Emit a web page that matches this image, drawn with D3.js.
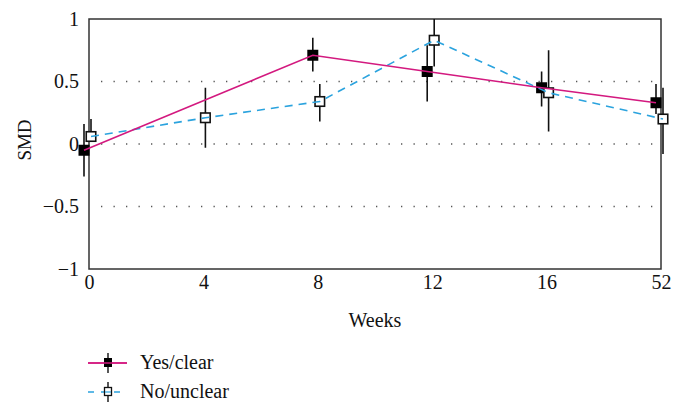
<!DOCTYPE html>
<html>
<head>
<meta charset="utf-8">
<script src="https://cdn.jsdelivr.net/npm/d3@7"></script>
<style>
  html, body { margin: 0; padding: 0; background: #fff; }
  svg { display: block; }
  text { font-family: "Liberation Serif", "DejaVu Serif", serif; fill: #111; }
</style>
</head>
<body>
<svg id="chart" width="684" height="416"></svg>
<script>
// ---- data ----
const weeks = ["0", "4", "8", "12", "16", "52"];

const yesWeeks = ["0", "8", "12", "16", "52"];
const yesSMD  = [-0.05, 0.71, 0.58, 0.45, 0.33];
const yesLow  = [-0.26, 0.58, 0.34, 0.30, 0.24];
const yesHigh = [0.16, 0.85, 0.79, 0.58, 0.48];

const noWeeks = ["0", "4", "8", "12", "16", "52"];
const noSMD  = [0.06, 0.21, 0.34, 0.83, 0.41, 0.20];
const noLow  = [0.03, -0.03, 0.18, 0.62, 0.10, -0.08];
const noHigh = [0.20, 0.45, 0.48, 1.00, 0.75, 0.45];

const yTicks = [-1, -0.5, 0, 0.5, 1];
const gridValues = [-0.5, 0, 0.5];
const seriesNames = ["Yes/clear", "No/unclear"];

// ---- layout ----
const svg = d3.select("#chart");
const L = 89, R = 661, T = 19, B = 269;
const x = d3.scalePoint().domain(weeks).range([L, R]).padding(0);
const y = d3.scaleLinear().domain([-1, 1]).range([B, T]);

const magenta = "#d3197f";
const blue = "#2ba3de";
const FS = "20px";

// grid
svg.append("g").selectAll("line").data(gridValues).join("line")
  .attr("x1", L + 12).attr("x2", R - 6)
  .attr("y1", d => y(d)).attr("y2", d => y(d))
  .attr("stroke", "#555").attr("stroke-width", 1.3)
  .attr("stroke-dasharray", "1.3,11.2");

// frame
svg.append("rect").attr("x", L).attr("y", T).attr("width", R - L).attr("height", B - T)
  .attr("fill", "none").attr("stroke", "#333").attr("stroke-width", 1.5);

// axes
const yAxis = svg.append("g").attr("transform", `translate(${L},0)`)
  .call(d3.axisLeft(y).tickValues(yTicks).tickSize(0).tickPadding(10).tickFormat(d3.format("~g")));
yAxis.select(".domain").remove();
yAxis.selectAll("text").style("font-size", FS).style("font-family", "Liberation Serif");

const xAxis = svg.append("g").attr("transform", `translate(0,${B})`)
  .call(d3.axisBottom(x).tickSize(0).tickPadding(6));
xAxis.select(".domain").remove();
xAxis.selectAll("text").style("font-size", FS).style("font-family", "Liberation Serif");

svg.append("text").attr("x", (L + R) / 2).attr("y", 327).attr("text-anchor", "middle")
  .style("font-size", FS).text("Weeks");
svg.append("text").attr("transform", "translate(31,140) rotate(-90)").attr("text-anchor", "middle")
  .style("font-size", "19px").text("SMD");

// series
const yesData = yesWeeks.map((w, i) => ({ w, v: yesSMD[i], lo: yesLow[i], hi: yesHigh[i] }));
const noData = noWeeks.map((w, i) => ({ w, v: noSMD[i], lo: noLow[i], hi: noHigh[i] }));
const yesDx = -5, noDx = 2;
const sq = 11;

function drawErr(data, dx) {
  svg.append("g").selectAll("line").data(data).join("line")
    .attr("x1", d => x(d.w) + dx).attr("x2", d => x(d.w) + dx)
    .attr("y1", d => y(d.hi)).attr("y2", d => y(d.lo))
    .attr("stroke", "#111").attr("stroke-width", 1.6);
}
drawErr(yesData, yesDx);
drawErr(noData, noDx);

svg.append("g").selectAll("rect").data(yesData).join("rect")
  .attr("x", d => x(d.w) + yesDx - sq / 2).attr("y", d => y(d.v) - sq / 2)
  .attr("width", sq).attr("height", sq).attr("fill", "#000");
svg.append("g").selectAll("rect").data(noData).join("rect")
  .attr("x", d => x(d.w) + noDx - sq / 2 + 0.75).attr("y", d => y(d.v) - sq / 2 + 0.75)
  .attr("width", sq - 1.5).attr("height", sq - 1.5).attr("fill", "#fff")
  .attr("stroke", "#111").attr("stroke-width", 1.6);

const lineYes = d3.line().x(d => x(d.w) + yesDx).y(d => y(d.v));
const lineNo = d3.line().x(d => x(d.w) + noDx).y(d => y(d.v));
svg.append("path").datum(noData).attr("d", lineNo).attr("fill", "none")
  .attr("stroke", blue).attr("stroke-width", 1.6).attr("stroke-dasharray", "8,6");
svg.append("path").datum(yesData).attr("d", lineYes).attr("fill", "none")
  .attr("stroke", magenta).attr("stroke-width", 1.6);

// legend
const legY = [363, 392];
const lg = svg.append("g");
seriesNames.forEach((name, i) => {
  const cy = legY[i];
  const g = lg.append("g");
  g.append("line").attr("x1", 88).attr("x2", 127).attr("y1", cy).attr("y2", cy)
    .attr("stroke", i === 0 ? magenta : blue).attr("stroke-width", 1.6)
    .attr("stroke-dasharray", i === 0 ? null : "6,7");
  g.append("line").attr("x1", 108).attr("x2", 108).attr("y1", cy - 10).attr("y2", cy + 10)
    .attr("stroke", "#111").attr("stroke-width", 1.4);
  if (i === 0) {
    g.append("rect").attr("x", 104).attr("y", cy - 5).attr("width", 8).attr("height", 9).attr("fill", "#000");
    g.append("line").attr("x1", 88).attr("x2", 127).attr("y1", cy).attr("y2", cy)
      .attr("stroke", magenta).attr("stroke-width", 1.6);
  } else {
    g.append("rect").attr("x", 104.5).attr("y", cy - 4.5).attr("width", 7).attr("height", 8)
      .attr("fill", "#fff").attr("stroke", "#111").attr("stroke-width", 1.3);
    g.append("line").attr("x1", 105).attr("x2", 111).attr("y1", cy).attr("y2", cy)
      .attr("stroke", blue).attr("stroke-width", 1.2);
  }
  g.append("text").attr("x", 140).attr("y", cy + 6).style("font-size", FS).text(name);
});
</script>
</body>
</html>
